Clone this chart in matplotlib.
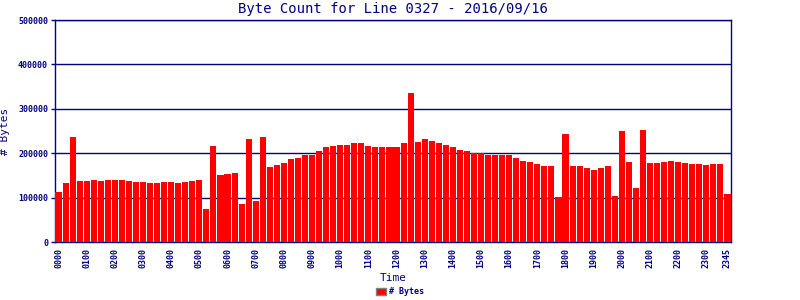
import numpy as np
import matplotlib.pyplot as plt

# 15-minute slots 0000..2345
slots = [f"{h:02d}{m:02d}" for h in range(24) for m in (0, 15, 30, 45)]

byte_counts = [
    113500, 134000, 237600, 138000, 138000, 140600, 138000, 140600,
    140600, 140600, 138000, 136000, 136000, 134000, 134000, 136000,
    136000, 134000, 136000, 138000, 140600, 75000, 217000, 152000,
    154000, 156000, 86500, 233000, 93000, 237600, 170000, 174500,
    179000, 186000, 190000, 197000, 197000, 206000, 213000, 217000,
    219600, 219600, 222000, 224000, 217000, 215000, 213000, 215000,
    215000, 222000, 334600, 226000, 231000, 228600, 224000, 219600,
    213000, 208000, 204000, 201500, 201500, 197000, 195000, 195000,
    195000, 190000, 183500, 181000, 176700, 172000, 172000, 102000,
    244000, 172000, 172000, 167700, 163000, 167700, 172000, 104500,
    249000, 181000, 122600, 253000, 179000, 179000, 181000, 183500,
    181000, 179000, 176700, 176700, 174500, 176700, 176700, 109000,
]

navy = "#000080"
mono = "DejaVu Sans Mono"

fig = plt.figure(figsize=(8, 3), dpi=100)
ax = fig.add_axes([0.06875, 0.1933, 0.845, 0.74])

x = np.arange(len(slots))
bars = ax.bar(x, byte_counts, width=0.86, color="#ff0000", label="# Bytes", zorder=3)

ax.set_xlim(-0.5, len(slots) - 0.5)
ax.set_ylim(0, 500000)
ax.set_yticks(np.arange(0, 500001, 100000))
ax.yaxis.grid(True, color=navy, linewidth=1, zorder=0)
ax.set_yticklabels([str(v) for v in range(0, 500001, 100000)],
                   fontfamily=mono, fontsize=6, fontweight="bold", color=navy)

tick_idx = list(range(0, 96, 4)) + [95]
ax.set_xticks(tick_idx)
ax.set_xticklabels([slots[i] for i in tick_idx], rotation=90,
                   fontfamily=mono, fontsize=6, fontweight="bold", color=navy)
ax.tick_params(axis="x", length=0, pad=4)
ax.tick_params(axis="y", length=3, width=1, color=navy, pad=2)

for s in ax.spines.values():
    s.set_color(navy)
    s.set_linewidth(1)

ax.set_title("Byte Count for Line 0327 - 2016/09/16", fontfamily=mono,
             fontsize=10, color=navy, pad=5)
ax.set_xlabel("Time", fontfamily=mono, fontsize=8, color=navy, labelpad=4)
ax.set_ylabel("# Bytes", fontfamily=mono, fontsize=8, color=navy, labelpad=6)

leg = fig.legend(handles=[bars], labels=["# Bytes"], loc="lower center",
                 bbox_to_anchor=(0.5, -0.012), frameon=False,
                 prop={"family": mono, "size": 6, "weight": "bold"},
                 labelcolor=navy, handlelength=1.2, handleheight=0.9,
                 handletextpad=0.3)
for h in leg.legend_handles:
    h.set_edgecolor("#808080")
    h.set_linewidth(1)

fig.savefig("out.png", dpi=100)
